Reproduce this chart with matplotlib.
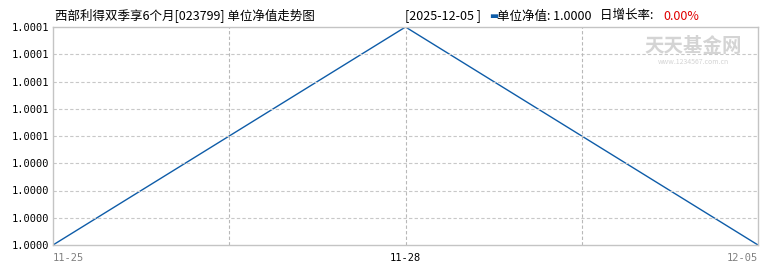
import numpy as np
import matplotlib
matplotlib.use("Agg")
from matplotlib import pyplot as plt

plt.rcParams['font.family'] = ['Noto Sans CJK SC', 'DejaVu Sans']

# data
dates = ['11-25', '11-28', '12-05']
nav = [1.0000, 1.0001, 1.0000]
ytick_vals = [1.0000, 1.0000125, 1.000025, 1.0000375, 1.00005,
              1.0000625, 1.000075, 1.0000875, 1.0001]
ytick_labels = ['1.0000', '1.0000', '1.0000', '1.0000', '1.0001',
                '1.0001', '1.0001', '1.0001', '1.0001']
title = '西部利得双季享6个月[023799] 单位净值走势图'
last_date = '2025-12-05'
last_nav = '1.0000'
last_rate = '0.00%'

fig = plt.figure(figsize=(7.7, 2.7), dpi=100)
ax = fig.add_axes([53 / 770, 25 / 270, 705 / 770, 218 / 270])

x = np.arange(len(dates))
ax.plot(x, nav, color='#0e5ca8', lw=1.0)
ax.set_xlim(0, len(dates) - 1)
ax.set_ylim(ytick_vals[0], ytick_vals[-1])

ax.set_yticks(ytick_vals)
ax.set_yticklabels(ytick_labels, fontsize=7.5, family='DejaVu Sans Mono')
ax.tick_params(axis='y', length=0, pad=3)
ax.set_xticks([])

# grid
for v in ytick_vals[1:-1]:
    ax.axhline(v, color='#c8c8c8', lw=0.8, ls=(0, (3, 2)))
for gx in [0.5, 1.0, 1.5]:
    ax.axvline(gx, color='#b8b8b8', lw=0.8, ls=(0, (3, 2)))

for s in ax.spines.values():
    s.set_color('#c4c4c4')
    s.set_linewidth(1.0)

# x labels
ax.text(0, -0.035, dates[0], transform=ax.get_xaxis_transform(), ha='left', va='top',
        fontsize=7.5, color='#808080', family='DejaVu Sans Mono')
ax.text(1, -0.035, dates[1], transform=ax.get_xaxis_transform(), ha='center', va='top',
        fontsize=7.5, color='black', family='DejaVu Sans Mono')
ax.text(2, -0.035, dates[2], transform=ax.get_xaxis_transform(), ha='right', va='top',
        fontsize=7.5, color='#808080', family='DejaVu Sans Mono')

# header
fig.text(55 / 770, 1 - 16 / 270, title, fontsize=9, va='center', ha='left')
fig.text(405 / 770, 1 - 16 / 270, '[' + last_date + ' ]', fontsize=9, va='center', ha='left')
fig.text(489 / 770, 1 - 16 / 270, '▬', fontsize=7, va='center', ha='left', color='#0e5ca8')
fig.text(497 / 770, 1 - 16 / 270, '单位净值: ' + last_nav, fontsize=9, va='center', ha='left')
fig.text(600 / 770, 1 - 16 / 270, '日增长率: ', fontsize=9, va='center', ha='left')
fig.text(663 / 770, 1 - 16 / 270, last_rate, fontsize=9, va='center', ha='left', color='#e00000')

# watermark
fig.text(693 / 770, 1 - 46 / 270, '天天基金网', fontsize=14, va='center', ha='center',
         color='#d4d4d4', weight='bold')
fig.text(693 / 770, 1 - 62 / 270, 'www.1234567.com.cn', fontsize=5, va='center', ha='center',
         color='#d4d4d4')

fig.savefig('out.png', dpi=100)
